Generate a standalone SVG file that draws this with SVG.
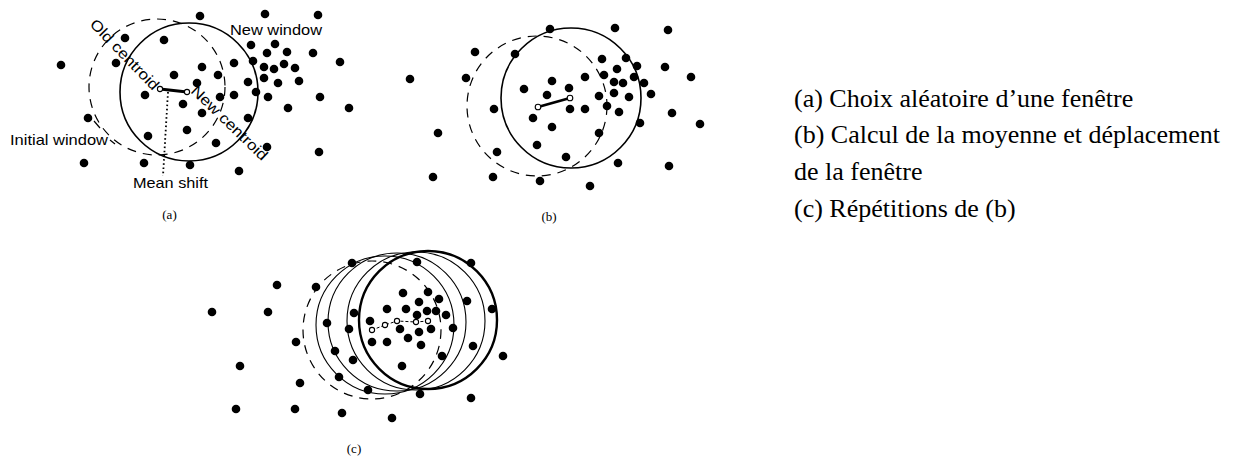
<svg xmlns="http://www.w3.org/2000/svg" width="1241" height="461" viewBox="0 0 1241 461">
<style>
.dot{fill:#000}
.win{fill:none;stroke:#000;stroke-width:1.6}
.thin{fill:none;stroke:#000;stroke-width:1.1}
.thick{fill:none;stroke:#000;stroke-width:2.4}
.dash{fill:none;stroke:#000;stroke-width:1.2;stroke-dasharray:9 7}
.cent{fill:#fff;stroke:#000;stroke-width:1.1}
.lbl{font-family:"Liberation Sans",Arial,sans-serif;font-size:15px;fill:#000}
.cap{font-family:"Liberation Serif","Times New Roman",serif;font-size:13px;fill:#000;text-anchor:middle}
.txt{font-family:"Liberation Serif","Times New Roman",serif;font-size:26px;fill:#000}
</style>
<rect width="1241" height="461" fill="#fff"/>

<g id="panel-a">
<circle class="dash" cx="157" cy="87" r="68"/>
<circle class="win" cx="189" cy="92" r="69"/>
<g class="dot">
<circle cx="200" cy="16" r="4.3"/><circle cx="265" cy="14" r="4.3"/><circle cx="318" cy="15" r="4.3"/>
<circle cx="125" cy="38" r="4.3"/><circle cx="164" cy="40" r="4.3"/><circle cx="251" cy="45" r="4.3"/>
<circle cx="275" cy="44" r="4.3"/><circle cx="287" cy="52" r="4.3"/><circle cx="267" cy="53" r="4.3"/>
<circle cx="313" cy="53" r="4.3"/><circle cx="340" cy="62" r="4.3"/><circle cx="61" cy="65" r="4.3"/>
<circle cx="116" cy="63" r="4.3"/><circle cx="202" cy="67" r="4.3"/><circle cx="234" cy="63" r="4.3"/>
<circle cx="253" cy="61" r="4.3"/><circle cx="264" cy="67" r="4.3"/><circle cx="274" cy="69" r="4.3"/>
<circle cx="284" cy="64" r="4.3"/><circle cx="295" cy="68" r="4.3"/><circle cx="218" cy="75" r="4.3"/>
<circle cx="174" cy="75" r="4.3"/><circle cx="197" cy="83" r="4.3"/><circle cx="248" cy="82" r="4.3"/>
<circle cx="264" cy="78" r="4.3"/><circle cx="278" cy="83" r="4.3"/><circle cx="299" cy="81" r="4.3"/>
<circle cx="145" cy="95" r="4.3"/><circle cx="220" cy="97" r="4.3"/><circle cx="234" cy="95" r="4.3"/>
<circle cx="256" cy="92" r="4.3"/><circle cx="268" cy="97" r="4.3"/><circle cx="320" cy="97" r="4.3"/>
<circle cx="183" cy="104" r="4.3"/><circle cx="202" cy="113" r="4.3"/><circle cx="288" cy="108" r="4.3"/>
<circle cx="349" cy="108" r="4.3"/><circle cx="248" cy="118" r="4.3"/><circle cx="88" cy="118" r="4.3"/>
<circle cx="187" cy="130" r="4.3"/><circle cx="148" cy="136" r="4.3"/><circle cx="216" cy="143" r="4.3"/>
<circle cx="267" cy="147" r="4.3"/><circle cx="319" cy="152" r="4.3"/><circle cx="84" cy="163" r="4.3"/>
<circle cx="144" cy="163" r="4.3"/><circle cx="190" cy="165" r="4.3"/><circle cx="239" cy="171" r="4.3"/>
</g>
<text class="lbl" x="230" y="35" textLength="92" lengthAdjust="spacingAndGlyphs">New window</text>
<text class="lbl" x="10" y="145" textLength="98" lengthAdjust="spacingAndGlyphs">Initial window</text>
<text class="lbl" x="133" y="188" textLength="75" lengthAdjust="spacingAndGlyphs">Mean shift</text>
<text class="lbl" transform="translate(89 25) rotate(46)" textLength="92" lengthAdjust="spacingAndGlyphs">Old centroid</text>
<text class="lbl" transform="translate(190 92) rotate(44)" textLength="100" lengthAdjust="spacingAndGlyphs">New centroid</text>
<text class="cap" x="169.5" y="219">(a)</text>
</g>

<g id="panel-b">
<circle class="dash" cx="537" cy="106" r="70"/>
<circle class="win" cx="571" cy="98" r="70"/>
<g class="dot">
<circle cx="550" cy="29" r="4.3"/><circle cx="615" cy="28" r="4.3"/><circle cx="668" cy="30" r="4.3"/>
<circle cx="475" cy="52" r="4.3"/><circle cx="515" cy="54" r="4.3"/><circle cx="410" cy="79" r="4.3"/>
<circle cx="466" cy="78" r="4.3"/><circle cx="602" cy="59" r="4.3"/><circle cx="626" cy="58" r="4.3"/>
<circle cx="637" cy="66" r="4.3"/><circle cx="617" cy="69" r="4.3"/><circle cx="665" cy="67" r="4.3"/>
<circle cx="691" cy="77" r="4.3"/><circle cx="604" cy="75" r="4.3"/><circle cx="585" cy="77" r="4.3"/>
<circle cx="552" cy="81" r="4.3"/><circle cx="524" cy="89" r="4.3"/><circle cx="547" cy="95" r="4.3"/>
<circle cx="569" cy="88" r="4.3"/><circle cx="614" cy="82" r="4.3"/><circle cx="623" cy="83" r="4.3"/>
<circle cx="634" cy="77" r="4.3"/><circle cx="644" cy="83" r="4.3"/><circle cx="651" cy="94" r="4.3"/>
<circle cx="614" cy="93" r="4.3"/><circle cx="629" cy="97" r="4.3"/><circle cx="599" cy="96" r="4.3"/>
<circle cx="607" cy="106" r="4.3"/><circle cx="619" cy="112" r="4.3"/><circle cx="494" cy="109" r="4.3"/>
<circle cx="570" cy="109" r="4.3"/><circle cx="585" cy="109" r="4.3"/><circle cx="672" cy="113" r="4.3"/>
<circle cx="533" cy="118" r="4.3"/><circle cx="552" cy="127" r="4.3"/><circle cx="640" cy="123" r="4.3"/>
<circle cx="700" cy="124" r="4.3"/><circle cx="599" cy="133" r="4.3"/><circle cx="438" cy="133" r="4.3"/>
<circle cx="537" cy="145" r="4.3"/><circle cx="497" cy="152" r="4.3"/><circle cx="566" cy="157" r="4.3"/>
<circle cx="618" cy="163" r="4.3"/><circle cx="669" cy="166" r="4.3"/><circle cx="433" cy="177" r="4.3"/>
<circle cx="493" cy="177" r="4.3"/><circle cx="540" cy="181" r="4.3"/><circle cx="590" cy="186" r="4.3"/>
</g>
<text class="cap" x="549" y="221">(b)</text>
</g>

<g id="panel-c">
<circle class="dash" cx="372" cy="330" r="69"/>
<circle class="thin" cx="385" cy="325" r="69"/>
<circle class="thin" cx="397" cy="322" r="69"/>
<circle class="thin" cx="416" cy="321" r="69"/>
<circle class="thick" cx="428" cy="320" r="69"/>
<g class="dot">
<circle cx="352" cy="263" r="4.3"/><circle cx="417" cy="262" r="4.3"/><circle cx="471" cy="263" r="4.3"/>
<circle cx="277" cy="285" r="4.3"/><circle cx="316" cy="287" r="4.3"/><circle cx="403" cy="293" r="4.3"/>
<circle cx="428" cy="292" r="4.3"/><circle cx="439" cy="299" r="4.3"/><circle cx="419" cy="302" r="4.3"/>
<circle cx="467" cy="301" r="4.3"/><circle cx="492" cy="309" r="4.3"/><circle cx="212" cy="312" r="4.3"/>
<circle cx="268" cy="312" r="4.3"/><circle cx="354" cy="313" r="4.3"/><circle cx="387" cy="309" r="4.3"/>
<circle cx="406" cy="309" r="4.3"/><circle cx="417" cy="315" r="4.3"/><circle cx="427" cy="311" r="4.3"/>
<circle cx="436" cy="311" r="4.3"/><circle cx="446" cy="315" r="4.3"/><circle cx="327" cy="323" r="4.3"/>
<circle cx="349" cy="329" r="4.3"/><circle cx="370" cy="321" r="4.3"/><circle cx="400" cy="329" r="4.3"/>
<circle cx="419" cy="332" r="4.3"/><circle cx="431" cy="329" r="4.3"/><circle cx="453" cy="328" r="4.3"/>
<circle cx="296" cy="342" r="4.3"/><circle cx="372" cy="342" r="4.3"/><circle cx="387" cy="342" r="4.3"/>
<circle cx="408" cy="338" r="4.3"/><circle cx="421" cy="345" r="4.3"/><circle cx="473" cy="346" r="4.3"/>
<circle cx="335" cy="351" r="4.3"/><circle cx="353" cy="360" r="4.3"/><circle cx="442" cy="356" r="4.3"/>
<circle cx="503" cy="356" r="4.3"/><circle cx="402" cy="366" r="4.3"/><circle cx="240" cy="366" r="4.3"/>
<circle cx="339" cy="377" r="4.3"/><circle cx="300" cy="383" r="4.3"/><circle cx="368" cy="390" r="4.3"/>
<circle cx="420" cy="394" r="4.3"/><circle cx="471" cy="398" r="4.3"/><circle cx="236" cy="409" r="4.3"/>
<circle cx="295" cy="409" r="4.3"/><circle cx="342" cy="413" r="4.3"/><circle cx="392" cy="418" r="4.3"/>
</g>
<text class="cap" x="354" y="453">(c)</text>
</g>

<g id="connectors">
<line x1="160" y1="89" x2="187" y2="92" stroke="#000" stroke-width="3.2"/>
<line x1="168" y1="92" x2="163" y2="176" stroke="#000" stroke-width="1.8" stroke-dasharray="1.6 2.6"/>
<line x1="94" y1="121" x2="100" y2="128" stroke="#000" stroke-width="1.2"/>
<line x1="110" y1="140" x2="115" y2="144" stroke="#000" stroke-width="1.2"/>
<circle class="cent" cx="160" cy="89" r="2.6"/>
<circle class="cent" cx="187" cy="92" r="2.6"/>
<line x1="538" y1="107" x2="570" y2="98" stroke="#000" stroke-width="2.8"/>
<circle class="cent" cx="538" cy="107" r="2.8"/>
<circle class="cent" cx="570" cy="98" r="2.8"/>
<polyline points="372,330 385,325 397,321 416,322 428,321" fill="none" stroke="#000" stroke-width="1" stroke-dasharray="3 2"/>
<circle class="cent" cx="372" cy="330" r="2.6"/>
<circle class="cent" cx="385" cy="325" r="2.6"/>
<circle class="cent" cx="397" cy="321" r="2.6"/>
<circle class="cent" cx="416" cy="322" r="2.6"/>
<circle class="cent" cx="428" cy="321" r="2.6"/>
</g>

<g id="captions">
<text class="txt" x="794" y="107">(a) Choix aléatoire d’une fenêtre</text>
<text class="txt" x="794" y="143">(b) Calcul de la moyenne et déplacement</text>
<text class="txt" x="794" y="180">de la fenêtre</text>
<text class="txt" x="794" y="217">(c) Répétitions de (b)</text>
</g>
</svg>
